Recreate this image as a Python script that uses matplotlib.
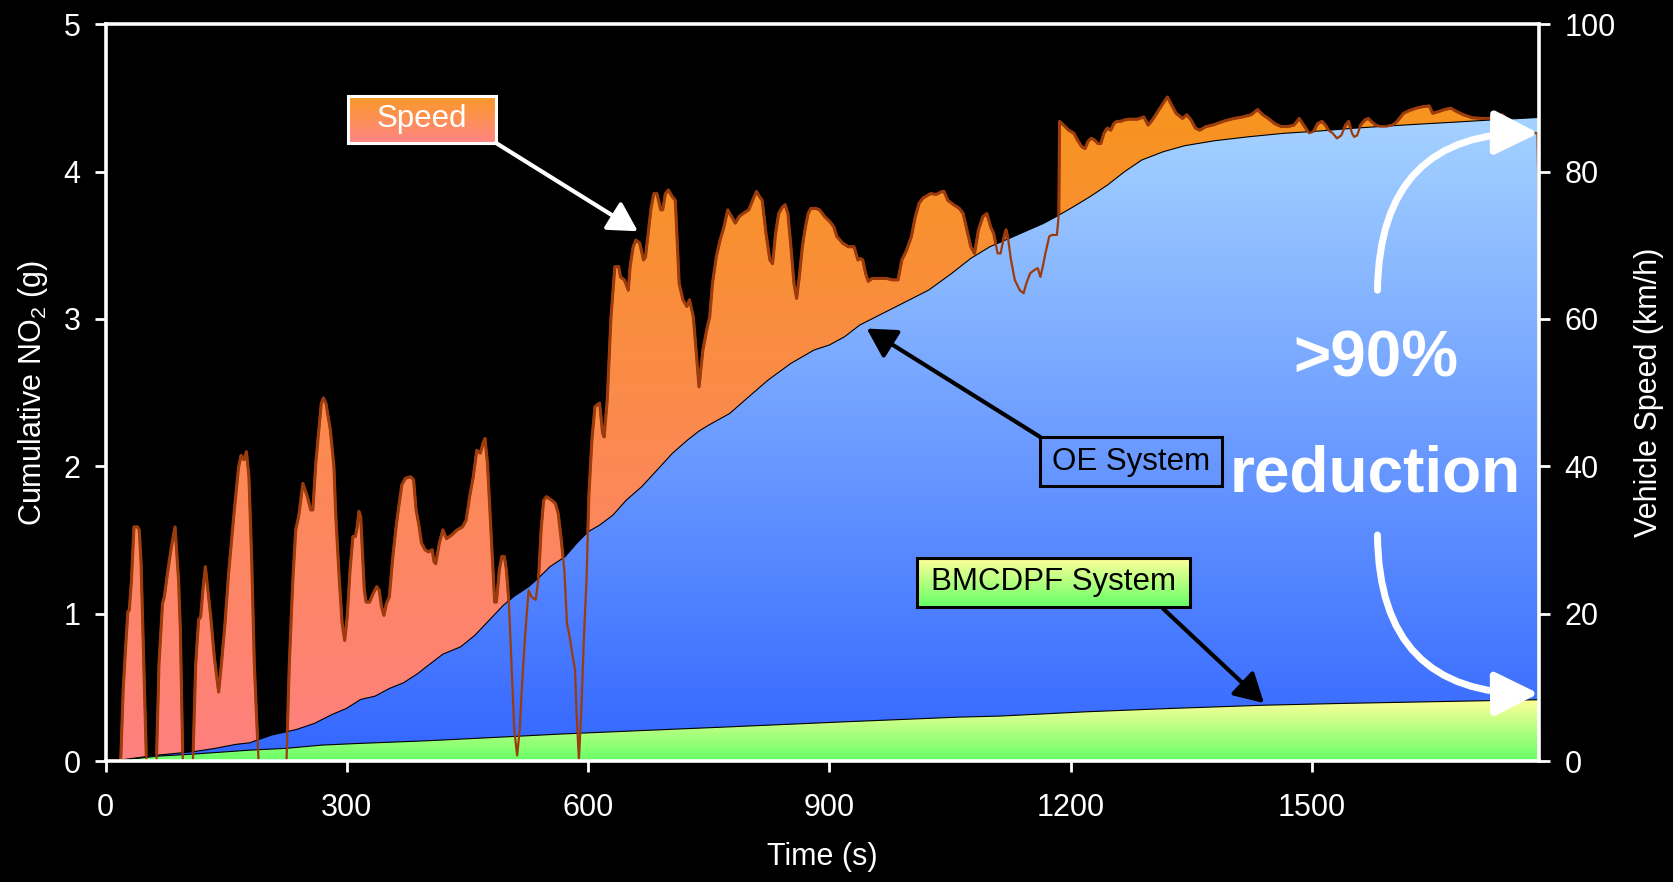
import numpy as np
import matplotlib
matplotlib.use("Agg")
import matplotlib.pyplot as plt
from matplotlib.colors import LinearSegmentedColormap
from matplotlib.patches import Rectangle

plt.rcParams["font.family"] = ["Liberation Sans", "DejaVu Sans"]

# vehicle speed trace (km/h)
speed_time = [
    0, 18.6, 21.7, 24.0, 27.5, 29.3, 32.0, 35.1, 39.5, 41.7, 44.0, 46.2, 48.4, 50.6,
    63.1, 66.2, 70.6, 72.8, 77.3, 81.7, 86.2, 90.6, 92.8, 95.9,
    108.4, 111.9, 115.5, 118.1, 120.8, 123.9, 127.0, 130.6, 135.0, 140.4, 143.9, 148.3,
    152.8, 159.5, 165.2, 168.3, 171.9, 175.0, 178.1, 181.7, 184.8, 187.4, 190.1,
    224.8, 228.3, 232.7, 236.3, 239.9, 245.2, 250.5, 255.0, 257.6, 261.2, 264.7, 268.0,
    270.7, 274.0, 279.4, 283.8, 286.0, 290.5, 294.0, 297.2, 300.3, 303.8, 307.4, 310.5,
    312.7, 314.9, 317.1, 319.4, 321.6, 323.8, 328.2, 332.7, 337.1, 340.2, 342.9, 346.0,
    349.1, 352.7, 357.1, 361.6, 368.2, 372.7, 379.3, 382.9, 386.0, 389.1, 392.7, 397.1,
    401.5, 406.0, 408.2, 410.4, 414.9, 419.3, 423.8, 430.4, 437.1, 443.7, 448.2, 452.6,
    457.1, 461.5, 465.9, 469.1, 471.7, 474.8, 478.0, 481.5, 483.7, 485.9, 489.5, 492.6,
    495.7, 498.4, 501.5, 504.6, 508.1, 511.7, 514.8, 517.9, 521.5, 525.9, 529.5, 534.8,
    538.4, 541.5, 544.6, 548.1, 554.8, 559.2, 562.8, 566.6, 570.4, 573.7, 577.0, 580.8,
    583.7, 585.6, 588.5, 591.3, 595.1, 598.0, 600.8, 604.6, 608.4, 614.2, 618.0, 619.9,
    623.7, 628.4, 633.2, 638.0, 640.3, 645.1, 649.9, 652.2, 656.0, 659.4, 664.1, 668.9,
    671.3, 675.1, 678.4, 681.8, 685.6, 690.3, 692.7, 696.0, 699.8, 704.6, 708.4, 710.3,
    713.2, 717.9, 722.7, 726.0, 730.8, 734.1, 737.9, 742.7, 747.4, 751.2, 754.6, 759.3,
    764.1, 768.9, 773.6, 778.4, 783.1, 787.9, 792.7, 799.8, 804.6, 809.3, 813.1, 816.5,
    821.2, 826.0, 829.3, 833.1, 836.9, 841.7, 845.0, 848.4, 852.2, 856.0, 859.3, 862.6,
    866.4, 870.2, 873.6, 876.9, 883.1, 887.9, 894.0, 900.7, 905.5, 909.3, 916.4, 923.6,
    930.7, 935.5, 938.8, 941.6, 945.0, 948.3, 953.1, 971.2, 978.3, 985.4, 990.2, 995.9,
    1002.1, 1006.9, 1011.6, 1016.4, 1025.9, 1033.0, 1040.2, 1042.6, 1047.3, 1054.5,
    1061.6, 1066.4, 1071.1, 1075.9, 1080.6, 1085.4, 1091.1, 1095.9, 1100.6, 1104.4,
    1109.2, 1113.0, 1116.3, 1119.7, 1122.5, 1125.9, 1130.6, 1136.8, 1141.6, 1144.9,
    1149.7, 1154.4, 1159.2, 1162.5, 1165.4, 1168.7, 1173.5, 1176.8, 1183.0, 1185.4,
    1186.3, 1191.3, 1197.7, 1204.1, 1208.4, 1213.7, 1218.0, 1221.7, 1225.5, 1229.7,
    1234.0, 1237.7, 1241.5, 1245.8, 1250.0, 1253.8, 1257.5, 1261.8, 1267.1, 1272.4,
    1283.1, 1291.1, 1296.5, 1301.8, 1307.1, 1312.5, 1317.8, 1320.5, 1324.8, 1331.2,
    1339.2, 1344.5, 1349.8, 1355.2, 1360.5, 1368.5, 1376.5, 1384.5, 1392.5, 1403.2,
    1413.9, 1424.6, 1432.6, 1439.0, 1445.9, 1453.9, 1461.9, 1470.0, 1478.0, 1484.4,
    1488.6, 1492.4, 1496.6, 1502.0, 1507.3, 1512.7, 1516.9, 1520.7, 1526.0, 1531.3,
    1536.7, 1542.0, 1545.8, 1550.0, 1552.7, 1556.4, 1560.7, 1566.0, 1570.3, 1574.0,
    1579.4, 1584.7, 1592.7, 1600.7, 1606.1, 1614.1, 1622.1, 1630.1, 1638.1, 1646.1,
    1650.4, 1656.8, 1664.8, 1672.8, 1680.8, 1688.8, 1699.5, 1710.2, 1720.8, 1731.5,
    1736.8, 1741.1, 1744.9, 1748.8, 1760.0, 1780.6, 1782.5,
]
speed_kmh = [
    0, 0, 9.7, 14.2, 20.3, 20.5, 24.6, 31.8, 31.8, 31.4, 26.8, 17.8, 8.8, 0,
    0, 13.2, 21.4, 22.3, 25.9, 29.1, 31.8, 24.6, 17.8, 0,
    0, 13.2, 19.2, 19.6, 23.2, 26.4, 23.2, 19.6, 14.2, 9.4, 13.2, 18.7,
    25.5, 33.6, 39.9, 41.5, 40.9, 42.0, 38.6, 26.8, 13.2, 6.5, 0,
    0, 13.2, 24.6, 31.4, 33.2, 37.7, 36.0, 34.1, 34.1, 40.4, 44.5, 48.5,
    49.3, 48.5, 44.9, 40.0, 33.6, 24.6, 18.7, 16.4, 19.6, 25.9, 30.5, 30.5,
    31.8, 33.9, 33.2, 28.2, 23.2, 21.6, 21.6, 22.8, 23.7, 23.2, 21.0, 19.8,
    21.4, 22.3, 27.8, 32.3, 37.5, 38.4, 38.6, 38.2, 34.1, 32.3, 29.6, 28.7,
    28.4, 28.7, 27.1, 26.8, 29.6, 31.4, 30.2, 30.7, 31.4, 31.8, 32.7, 35.9,
    38.6, 42.2, 41.8, 43.1, 43.8, 40.4, 33.6, 25.9, 21.6, 21.6, 25.9, 27.8,
    27.8, 25.9, 21.4, 13.3, 4.2, 0.8, 4.2, 10.6, 16.9, 23.2, 22.3, 21.9,
    25.0, 31.4, 35.4, 35.9, 35.4, 35.0, 33.6, 30.0, 25.9, 18.7, 16.9, 14.2,
    12.4, 6.5, 0.2, 6.5, 17.8, 24.6, 35.9, 43.5, 48.1, 48.6, 44.5, 44.0,
    49.0, 60.3, 67.1, 67.1, 65.7, 65.3, 63.9, 67.1, 69.8, 70.7, 70.3, 68.0,
    68.4, 72.1, 75.2, 77.0, 77.0, 74.8, 74.8, 77.0, 77.5, 76.6, 76.1, 71.6,
    64.8, 62.6, 61.7, 62.6, 60.3, 55.8, 50.8, 55.8, 58.5, 60.3, 64.8, 68.4,
    70.7, 72.5, 74.8, 73.9, 73.0, 73.9, 74.3, 74.8, 76.1, 77.3, 76.6, 76.1,
    71.6, 68.0, 67.5, 71.6, 74.3, 75.2, 75.5, 74.3, 69.8, 64.8, 62.8, 65.7,
    69.8, 72.5, 74.3, 75.0, 75.0, 74.8, 73.9, 73.2, 72.5, 71.2, 70.3, 69.8,
    69.8, 68.0, 68.2, 68.0, 66.2, 65.1, 65.5, 65.5, 65.3, 65.3, 68.0, 69.3,
    71.2, 73.9, 75.7, 76.4, 77.0, 76.9, 77.3, 77.3, 76.1, 75.5,
    75.0, 74.3, 72.1, 69.8, 68.9, 72.1, 73.9, 74.3, 72.5, 71.6,
    68.9, 68.9, 70.7, 72.1, 70.7, 68.0, 65.3, 63.9, 63.5, 64.8,
    66.2, 66.6, 66.9, 65.7, 67.1, 68.9, 71.2, 71.4, 71.4, 74.3,
    86.8, 86.3, 85.6, 85.2, 84.3, 83.4, 83.1, 84.1, 84.5, 84.3,
    83.8, 83.8, 85.2, 85.9, 85.6, 86.5, 86.8, 86.8, 87.0, 87.1,
    87.1, 87.4, 86.3, 87.0, 87.9, 88.8, 89.7, 90.1, 89.2, 87.9,
    87.2, 87.7, 87.0, 85.9, 85.6, 86.1, 86.3, 86.6, 86.9, 87.2,
    87.4, 87.7, 88.4, 87.7, 87.2, 86.5, 86.1, 86.1, 86.3, 87.2,
    86.5, 85.9, 85.2, 85.4, 86.5, 86.8, 86.3, 85.6, 85.2, 84.5,
    84.9, 86.3, 86.8, 85.2, 84.7, 84.9, 86.3, 87.0, 87.2, 86.8,
    86.3, 86.1, 86.1, 86.3, 86.8, 87.9, 88.3, 88.6, 88.8, 88.9,
    87.9, 88.1, 88.4, 88.6, 88.1, 87.7, 87.3, 87.2, 87.2, 87.4,
    87.7, 87.2, 86.5, 85.6, 85.3, 85.2, 74.0,
]

# cumulative NO2 (g), OE system
oe_time = [
    0, 19.5, 64, 108.4, 135, 161.7, 179.4, 188.3, 206.1, 219.4, 237.2, 259.4, 281.6,
    299.4, 317.1, 334.9, 352.7, 370.4, 388.2, 401.5, 419.3, 441.5, 459.3, 477.0, 494.8,
    508.1, 525.9, 539.2, 552.5, 571.3, 585.6, 599.9, 614.2, 630.8, 647.5, 666.5, 685.6,
    704.6, 723.6, 737.9, 749.8, 776.0, 795.0, 823.6, 852.2, 880.7, 899.8, 918.8, 937.8,
    966.4, 995.0, 1023.5, 1052.1, 1075.9, 1099.7, 1123.5, 1147.3, 1166.3, 1184.0, 1203.5,
    1224.0, 1245.8, 1267.1, 1288.5, 1315.1, 1341.8, 1379.2, 1421.9, 1464.6, 1507.3,
    1550.0, 1592.7, 1635.4, 1678.1, 1720.8, 1783,
]
no2_oe = [
    0, 0.010, 0.042, 0.065, 0.087, 0.115, 0.126, 0.144, 0.178, 0.194, 0.216, 0.257, 0.318,
    0.359, 0.420, 0.442, 0.494, 0.533, 0.596, 0.653, 0.727, 0.777, 0.856, 0.958, 1.060,
    1.120, 1.184, 1.248, 1.320, 1.388, 1.478, 1.557, 1.602, 1.670, 1.772, 1.862, 1.975,
    2.088, 2.179, 2.240, 2.280, 2.359, 2.450, 2.585, 2.699, 2.789, 2.823, 2.879, 2.959,
    3.038, 3.117, 3.196, 3.309, 3.411, 3.490, 3.546, 3.603, 3.648, 3.700, 3.761,
    3.829, 3.908, 3.999, 4.078, 4.134, 4.175, 4.209, 4.236, 4.259, 4.274,
    4.293, 4.308, 4.322, 4.335, 4.349, 4.367,
]

# cumulative NO2 (g), BMCDPF system
bm_time = [0, 19.5, 64, 108.4, 179.4, 223.9, 268.3, 312.7, 401.5, 490.4, 565, 633.2,
           776, 918.8, 1061.6, 1112, 1219, 1326, 1443, 1539, 1646, 1783]
no2_bm = [0, 0.008, 0.035, 0.049, 0.076, 0.088, 0.110, 0.121, 0.140, 0.164, 0.185, 0.201,
          0.234, 0.268, 0.300, 0.307, 0.336, 0.359, 0.381, 0.393, 0.404, 0.418]

time_ticks = [0, 300, 600, 900, 1200, 1500]
no2_ticks = [0, 1, 2, 3, 4, 5]
speed_ticks = [0, 20, 40, 60, 80, 100]
t_max = 1783

LINE_BROWN = "#9C3B0B"


def gradient_area(ax, x, y, c_bottom, c_top, zorder):
    x = np.asarray(x)
    y = np.asarray(y)
    poly = ax.fill_between(x, 0, y, facecolor="none", edgecolor="none", zorder=zorder)
    cmap = LinearSegmentedColormap.from_list("grad", [c_bottom, c_top])
    grad = np.linspace(0, 1, 256).reshape(-1, 1)
    im = ax.imshow(grad, cmap=cmap, aspect="auto", origin="lower",
                   extent=[x.min(), x.max(), 0, y.max()], zorder=zorder,
                   interpolation="bilinear")
    im.set_clip_path(poly.get_paths()[0], ax.transData)


def label_box(ax, x0, x1, y0, y1, edge, c_bottom=None, c_top=None):
    if c_bottom is not None:
        cmap = LinearSegmentedColormap.from_list("box", [c_bottom, c_top])
        grad = np.linspace(0, 1, 64).reshape(-1, 1)
        ax.imshow(grad, cmap=cmap, aspect="auto", origin="lower",
                  extent=[x0, x1, y0, y1], zorder=4)
    ax.add_patch(Rectangle((x0, y0), x1 - x0, y1 - y0, fill=False,
                           edgecolor=edge, lw=2.2, zorder=5))


fig = plt.figure(figsize=(16.73, 8.82), dpi=100, facecolor="black")
ax_s = fig.add_axes([0.0632, 0.1368, 0.8569, 0.8359])
ax_s.set_facecolor("black")
ax_n = ax_s.twinx()
ax_top = ax_s.twinx()

# speed area (bottom layer)
gradient_area(ax_s, speed_time, speed_kmh, "#FF8080", "#F7941D", 1)
ax_s.plot(speed_time, speed_kmh, color=LINE_BROWN, lw=2.2, zorder=2)

# NO2 areas
gradient_area(ax_n, oe_time, no2_oe, "#3366FF", "#A5D2FF", 1)
ax_n.plot(oe_time, no2_oe, color="black", lw=0.8, zorder=2)
gradient_area(ax_n, bm_time, no2_bm, "#66FF66", "#FFFF99", 3)
ax_n.plot(bm_time, no2_bm, color="black", lw=0.8, zorder=4)

# speed line on top
ax_top.plot(speed_time, speed_kmh, color=LINE_BROWN, lw=1.6, zorder=2)

for a in (ax_s, ax_n, ax_top):
    for sp in a.spines.values():
        sp.set_visible(False)
for sp in ax_top.spines.values():
    sp.set_visible(True)
    sp.set_color("white")
    sp.set_linewidth(2.6)
    sp.set_zorder(10)

ax_s.yaxis.tick_right()
ax_s.yaxis.set_label_position("right")
ax_n.yaxis.tick_left()
ax_n.yaxis.set_label_position("left")
ax_top.yaxis.set_visible(False)

ax_s.set_xticks(time_ticks)
ax_s.set_yticks(speed_ticks)
ax_n.set_yticks(no2_ticks)

ax_s.tick_params(axis="x", direction="out", length=8, width=2, colors="white",
                 labelsize=22, pad=14.5)
ax_s.tick_params(axis="y", direction="out", length=8, width=2, colors="white",
                 labelsize=22, pad=10)
ax_n.tick_params(axis="y", direction="out", length=8, width=2, colors="white",
                 labelsize=22, pad=10)

ax_s.set_xlabel("Time (s)", fontsize=22, color="white")
ax_s.xaxis.set_label_coords(0.5, -0.110)
ax_n.set_ylabel(r"Cumulative NO$_\mathregular{2}$ (g)", fontsize=22, color="white")
ax_n.yaxis.set_label_coords(-0.039, 0.5)
ax_s.set_ylabel("Vehicle Speed (km/h)", fontsize=22, color="white")
ax_s.yaxis.set_label_coords(1.066, 0.5)

# annotation boxes (in time / km/h units of the top axes)
label_box(ax_top, 300.7, 485.0, 83.9, 90.3, "white", "#FF8585", "#F99A25")
ax_top.text(392.9, 87.1, "Speed", color="white", fontsize=22.5, ha="center",
            va="center", zorder=6)
ax_top.annotate("", xy=(661.8, 71.9), xytext=(485.0, 83.9),
                arrowprops=dict(arrowstyle="-|>,head_length=0.8,head_width=0.45",
                                color="white", lw=3, mutation_scale=22,
                                shrinkA=0, shrinkB=0), zorder=6)

label_box(ax_top, 1162.1, 1388.4, 37.3, 44.0, "black")
ax_top.text(1275.2, 40.65, "OE System", color="black", fontsize=22.5, ha="center",
            va="center", zorder=6)
ax_top.annotate("", xy=(946.4, 58.7), xytext=(1162.1, 44.0),
                arrowprops=dict(arrowstyle="-|>,head_length=0.8,head_width=0.45",
                                color="black", lw=3, mutation_scale=22,
                                shrinkA=0, shrinkB=0), zorder=6)

label_box(ax_top, 1009.4, 1348.1, 21.0, 27.6, "black", "#66FF66", "#FFFF99")
ax_top.text(1178.7, 24.3, "BMCDPF System", color="black", fontsize=22.5,
            ha="center", va="center", zorder=6)
ax_top.annotate("", xy=(1440.5, 7.9), xytext=(1315.2, 20.7),
                arrowprops=dict(arrowstyle="-|>,head_length=0.8,head_width=0.45",
                                color="black", lw=3, mutation_scale=22,
                                shrinkA=0, shrinkB=0), zorder=6)

# reduction call-out
ax_top.text(1579.4, 52.2, ">90%", color="white", fontsize=46, fontweight="bold",
            ha="center", va="baseline", zorder=6)
ax_top.text(1579.4, 36.6, "reduction", color="white", fontsize=46,
            fontweight="bold", ha="center", va="baseline", zorder=6)
ax_top.annotate("", xy=(1782.2, 85.2), xytext=(1581.7, 63.9),
                arrowprops=dict(arrowstyle="-|>,head_length=0.9,head_width=0.45",
                                color="white", lw=5, mutation_scale=30,
                                shrinkA=0, shrinkB=0,
                                connectionstyle="arc3,rad=-0.5"), zorder=6)
ax_top.annotate("", xy=(1782.2, 9.2), xytext=(1581.7, 30.7),
                arrowprops=dict(arrowstyle="-|>,head_length=0.9,head_width=0.45",
                                color="white", lw=5, mutation_scale=30,
                                shrinkA=0, shrinkB=0,
                                connectionstyle="arc3,rad=0.5"), zorder=6)

ax_s.set_xlim(0, t_max)
ax_top.set_xlim(0, t_max)
ax_top.set_ylim(0, 100)
ax_n.set_ylim(0, 5)
ax_s.set_ylim(0, 100)

fig.savefig("out.png", dpi=100, facecolor="black")
